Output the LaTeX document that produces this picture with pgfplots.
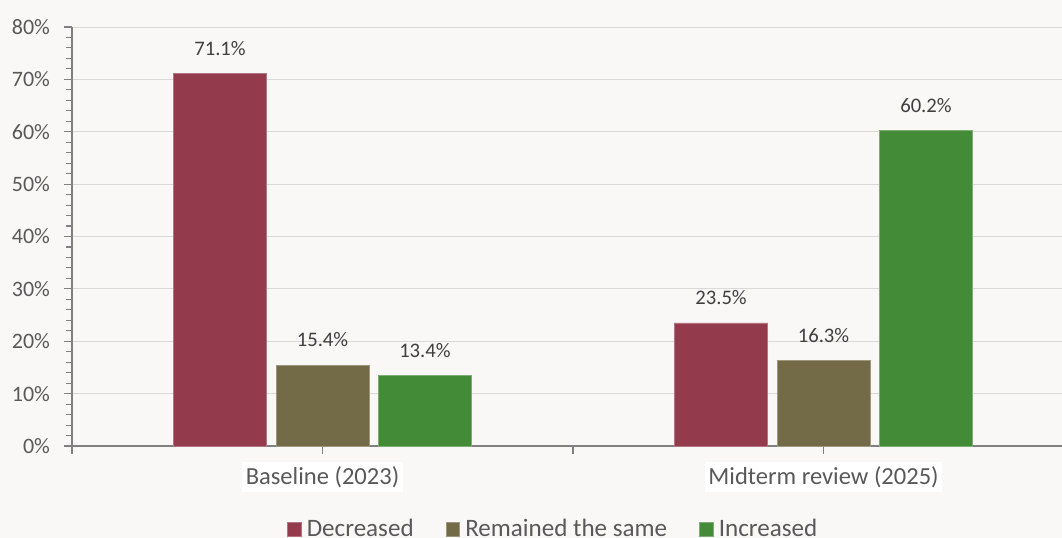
\documentclass[border=0pt]{standalone}
\usepackage{fontspec}
\setmainfont{Carlito}
\usepackage{pgfplots}
\pgfplotsset{compat=1.18}

\definecolor{bgc}{HTML}{F9F8F6}
\definecolor{dec}{HTML}{943A4D}
\definecolor{rem}{HTML}{736A47}
\definecolor{inc}{HTML}{448B38}
\definecolor{txt}{HTML}{404040}
\definecolor{lbl}{HTML}{595959}
\definecolor{axc}{HTML}{808080}
\definecolor{grd}{HTML}{D9D9D9}

% category name on a white plate
\newcommand{\plate}[1]{{\setlength{\fboxsep}{0pt}\colorbox{white}{\rule[-0.3em]{0pt}{1.25em}\hspace{2.5pt}#1\hspace{2.5pt}}}}

\begin{document}
\begin{tikzpicture}
\fill[bgc] (-54pt,-69pt) rectangle (742.5pt,334.5pt);
\begin{axis}[
  scale only axis,
  width=742.5pt, height=314.25pt,
  xmin=-0.5, xmax=1.476,
  ymin=0, ymax=80,
  ybar=7.1pt, bar width=69.75pt,
  axis x line*=bottom, axis y line*=left,
  axis line style={-, draw=axc, line width=0.8pt},
  ymajorgrids, grid style={grd, line width=0.7pt},
  ytick={0,10,...,80}, minor y tick num=4,
  yticklabel={\pgfmathprintnumber{\tick}\%},
  /pgf/number format/assume math mode=true,
  tick align=outside,
  major tick length=6pt, minor tick length=4.5pt,
  tick style={draw=axc, line width=0.8pt},
  xtick={-0.5,0,0.5,1},
  xticklabels={{},\plate{Baseline (2023)},{},\plate{Midterm review (2025)}},
  xticklabel style={text=lbl, font=\fontsize{18.4}{22}\selectfont,
    inner sep=0pt, yshift=-5.5pt},
  yticklabel style={text=lbl, font=\fontsize{16.5}{19}\selectfont, xshift=-7pt},
  nodes near coords={\pgfmathprintnumber[fixed,precision=1,fixed zerofill]{\pgfplotspointmeta}\%},
  every node near coord/.append style={font=\fontsize{15.5}{18}\selectfont, text=txt, anchor=base, yshift=13.9pt},
  legend style={at={(0.4864,-0.1985)}, anchor=center, legend columns=3,
    draw=none, fill=none, font=\fontsize{18.8}{22}\selectfont, text=lbl,
    /tikz/every odd column/.append style={column sep=2pt},
    /tikz/every even column/.append style={column sep=22pt}},
  legend image code/.code={\fill[#1] (0pt,-5.1pt) rectangle (10.2pt,5.1pt);},
]
\addplot[fill=dec, draw=dec!70!white, line width=0.5pt] coordinates {(0,71.1) (1,23.5)};
\addplot[fill=rem, draw=rem!70!white, line width=0.5pt] coordinates {(0,15.4) (1,16.3)};
\addplot[fill=inc, draw=inc!70!white, line width=0.5pt] coordinates {(0,13.4) (1,60.2)};
\legend{Decreased, Remained the same, Increased}
\end{axis}
\pgfresetboundingbox
\useasboundingbox (-54pt,-69pt) rectangle (742.5pt,334.5pt);
\end{tikzpicture}
\end{document}
